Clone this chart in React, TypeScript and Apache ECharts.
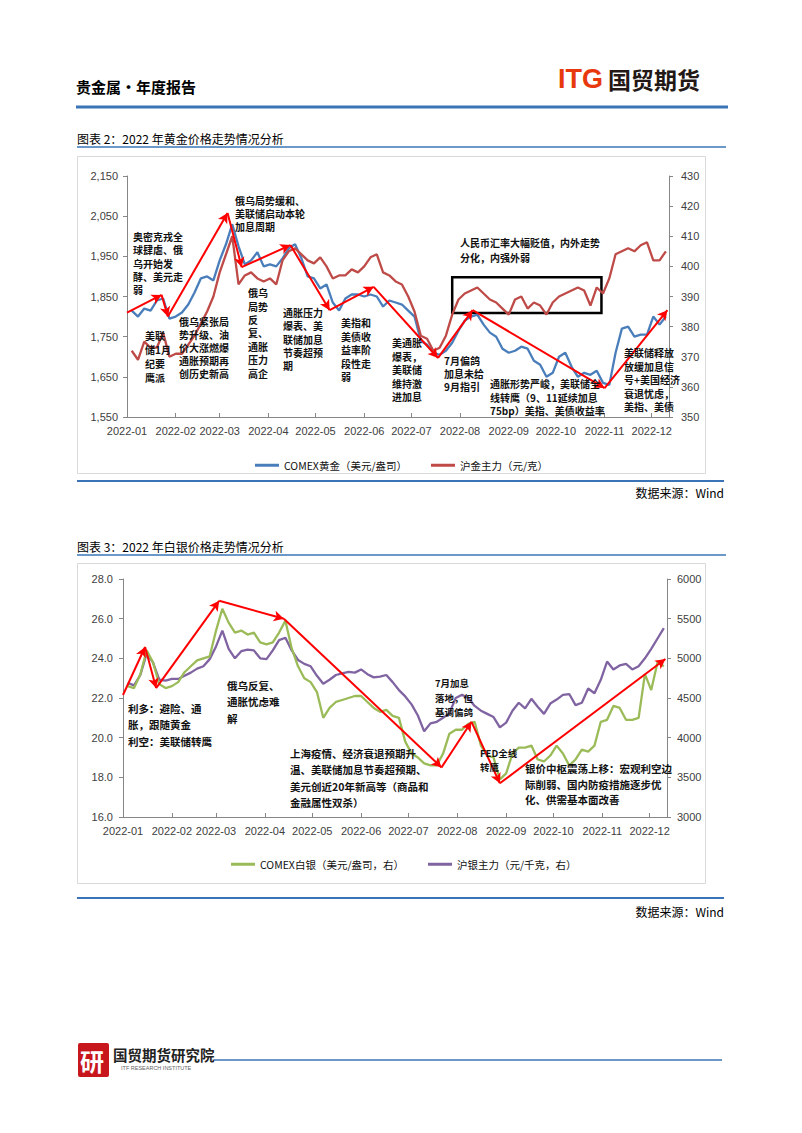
import React, { useEffect, useRef } from 'react';
import * as echarts from 'echarts';

// ---------- data ----------
const START_DAY = 3; // Jan 4
const STEP_DAYS = 4;
const N_POINTS = 86;
function dayToDate(d: number): string {
  const dt = new Date(2022, 0, 1 + d);
  return `${dt.getFullYear()}-${String(dt.getMonth() + 1).padStart(2, '0')}-${String(dt.getDate()).padStart(2, '0')}`;
}
const DATES: string[] = Array.from({ length: N_POINTS }, (_, i) => dayToDate(START_DAY + STEP_DAYS * i));

const MONTH_TICKS = ['2022-01-01', '2022-02-01', '2022-03-01', '2022-04-01', '2022-05-01', '2022-06-01',
  '2022-07-01', '2022-08-01', '2022-09-01', '2022-10-01', '2022-11-01', '2022-12-01'];
const MONTH_LABELS = ['2022-01', '2022-02', '2022-03', '2022-04', '2022-05', '2022-06',
  '2022-07', '2022-08', '2022-09', '2022-10', '2022-11', '2022-12'];
const X_MIN = '2022-01-01';
const X_MAX = '2022-12-12';

const GOLD_COMEX = [1815, 1800, 1820, 1815, 1840, 1845, 1795, 1800, 1810, 1830,
  1860, 1895, 1900, 1890, 1940, 1980, 2030, 1975, 1930, 1940,
  1960, 1925, 1930, 1925, 1945, 1970, 1980, 1945, 1900, 1895,
  1870, 1880, 1835, 1815, 1845, 1855, 1855, 1850, 1855, 1850,
  1825, 1840, 1835, 1830, 1815, 1800, 1740, 1730, 1710, 1705,
  1715, 1735, 1765, 1790, 1800, 1805, 1780, 1760, 1750, 1720,
  1710, 1715, 1725, 1720, 1690, 1680, 1650, 1660, 1700, 1710,
  1675, 1650, 1660, 1655, 1665, 1635, 1630, 1710, 1770, 1775,
  1750, 1755, 1755, 1800, 1780, 1800];
const GOLD_SHFE = [372, 369, 375, 373, 373, 378, 370, 371, 371, 374,
  377, 381, 385, 390, 398, 404, 410, 394, 397, 398,
  396, 395, 396, 394, 402, 405, 406, 404, 402, 401,
  403, 400, 396, 397, 397, 399, 398, 400, 403, 404,
  398, 397, 395, 394, 390, 385, 377, 376, 372, 373,
  377, 384, 389, 391, 392, 393, 391, 389, 388, 386,
  384, 389, 390, 386, 388, 387, 384, 388, 390, 391,
  392, 393, 392, 387, 393, 391, 396, 404, 405, 406,
  405, 407, 408, 402, 402, 405];
const SILVER_COMEX = [22.6, 22.5, 23.2, 24.4, 23.8, 22.7, 22.5, 22.6, 22.8, 23.3,
  23.6, 23.9, 24.0, 24.1, 25.4, 26.5, 25.8, 25.3, 25.4, 25.2,
  25.3, 24.8, 24.7, 24.8, 25.3, 25.9, 24.5, 23.6, 23.0, 22.8,
  22.3, 21.0, 21.5, 21.8, 21.9, 22.0, 22.1, 22.1, 21.8, 21.5,
  21.3, 21.4, 21.1, 21.0, 19.8, 19.2, 19.0, 18.7, 18.6, 18.6,
  19.2, 20.2, 20.4, 20.4, 20.7, 20.8, 19.6, 19.1, 19.0, 17.9,
  18.2, 19.2, 19.5, 19.5, 19.6, 18.9, 18.8, 19.1, 19.6, 19.2,
  18.6, 18.9, 19.4, 19.3, 19.6, 20.8, 20.9, 21.6, 21.5, 20.9,
  20.9, 21.0, 23.2, 22.4, 23.8, 23.6];
const SILVER_SHFE = [4690, 4660, 4790, 5060, 4950, 4730, 4720, 4740, 4740, 4780,
  4820, 4870, 4900, 4990, 5150, 5350, 5120, 5000, 5090, 5110,
  5100, 5000, 4990, 5100, 5230, 5260, 5100, 4980, 4930, 4900,
  4780, 4680, 4730, 4790, 4810, 4830, 4820, 4860, 4800, 4760,
  4770, 4790, 4700, 4600, 4520, 4420, 4280, 4080, 4180, 4200,
  4250, 4310, 4500, 4540, 4500, 4400, 4340, 4300, 4260, 4130,
  4190, 4340, 4440, 4370, 4490, 4390, 4300, 4430, 4480, 4540,
  4550, 4410, 4440, 4620, 4560, 4730, 4960, 4860, 4910, 4930,
  4860, 4900, 5000, 5120, 5250, 5380];

// trend arrows (vertices, left axis units)
const GOLD_TREND: [string, number][] = [
  ['2022-01-01', 1810], ['2022-01-23', 1854], ['2022-01-27', 1800], ['2022-03-06', 2058],
  ['2022-03-15', 1923], ['2022-04-15', 1978], ['2022-05-10', 1816], ['2022-06-07', 1874],
  ['2022-07-18', 1697], ['2022-08-09', 1816], ['2022-11-01', 1622], ['2022-12-11', 1816]];
const SILVER_TREND: [string, number][] = [
  ['2022-01-01', 22.15], ['2022-01-15', 24.57], ['2022-01-22', 22.5], ['2022-03-03', 26.9],
  ['2022-04-13', 26.0], ['2022-07-22', 18.5], ['2022-08-10', 20.8], ['2022-08-28', 17.7],
  ['2022-12-11', 23.97]];
// framed box on the SHFE gold axis
const GOLD_BOX: [string, number][] = [['2022-07-27', 396.4], ['2022-10-30', 384.5]];

const GOLD_NAMES = ['COMEX黄金（美元/盎司）', '沪金主力（元/克）'];
const SILVER_NAMES = ['COMEX白银（美元/盎司，右）', '沪银主力（元/千克，右）'];

// ---------- styles ----------
const FONT_CJK = '"Noto Sans CJK SC", "Noto Sans", sans-serif';
const FONT_NUM = '"Liberation Sans Narrow", "Liberation Sans", Arial, sans-serif';
const C_BLUE = '#4A7EBB';
const C_RED = '#BE4B48';
const C_GREEN = '#9BBB59';
const C_PURPLE = '#8064A2';
const AXIS_COLOR = '#868686';
const LABEL_COLOR = '#404040';
const PAGE_BLUE = '#3A74B7';
const LINE_W = 2.3;

function toTs(s: string): number {
  const [y, m, d] = s.split('-').map(Number);
  return new Date(y, m - 1, d).getTime();
}
const MONTH_TS = MONTH_TICKS.map(toTs);

function makeXAxis(gridIndex: number) {
  return {
    type: 'value',
    gridIndex,
    min: toTs(X_MIN),
    max: toTs(X_MAX),
    axisLine: { show: true, onZero: false, lineStyle: { color: AXIS_COLOR, width: 1 } },
    axisTick: { show: true, inside: true, length: 4, customValues: MONTH_TS, lineStyle: { color: AXIS_COLOR } },
    axisLabel: {
      customValues: MONTH_TS,
      formatter: (v: number) => {
        const i = MONTH_TS.indexOf(v);
        return i >= 0 ? MONTH_LABELS[i] : '';
      },
      color: LABEL_COLOR, fontSize: 11, fontFamily: FONT_NUM, margin: 8, hideOverlap: false,
    },
    splitLine: { show: false },
  };
}

function makeYAxis(gridIndex: number, position: string, min: number, max: number, interval: number,
  formatter: (v: number) => string, margin: number) {
  return {
    type: 'value', gridIndex, position, min, max, interval,
    axisLine: { show: true, lineStyle: { color: AXIS_COLOR, width: 1 } },
    axisTick: { show: true, length: 4, lineStyle: { color: AXIS_COLOR } },
    axisLabel: { formatter, color: LABEL_COLOR, fontSize: 11, fontFamily: FONT_NUM, margin },
    splitLine: { show: false },
  };
}

function pairs(pts: [string, number][]) {
  const out: any[] = [];
  for (let i = 0; i < pts.length - 1; i++) {
    out.push([{ coord: [toTs(pts[i][0]), pts[i][1]] }, { coord: [toTs(pts[i + 1][0]), pts[i + 1][1]] }]);
  }
  return out;
}

function arrowMarkLine(pts: [string, number][]) {
  return {
    silent: true,
    symbol: ['none', 'arrow'],
    symbolSize: [8, 10],
    lineStyle: { color: '#FF0000', width: 2, type: 'solid', opacity: 1 },
    label: { show: false },
    emphasis: { disabled: true },
    data: pairs(pts),
  };
}

// multi-line annotation: one text element per line
function note(text: string, x: number, y: number, size: number, lh: number) {
  const lines = text.split('\n');
  return {
    type: 'group', z: 100,
    children: lines.map((ln, k) => ({
      type: 'text', x, y: y + k * lh, z: 100,
      style: { text: ln, fontSize: size, fontWeight: 'bold', fontFamily: FONT_CJK, fill: '#111', lineHeight: lh, verticalAlign: 'top' },
    })),
  };
}
function pageText(text: string, x: number, y: number, size: number, opts: any = {}) {
  return {
    type: 'text', x, y, z: 100,
    style: { text, fontSize: size, fontFamily: FONT_CJK, fill: '#000', verticalAlign: 'middle', ...opts },
  };
}
function hLine(x1: number, x2: number, y: number, w: number, color: string) {
  return { type: 'line', z: 1, shape: { x1, y1: y, x2, y2: y }, style: { stroke: color, lineWidth: w } };
}

function buildOption() {
  const graphics: any[] = [
    // header
    pageText('贵金属·年度报告', 76, 86, 15, { fontWeight: 'bold' }),
    pageText('ITG', 558, 79, 27, { fontWeight: 'bold', fill: '#E8380D', fontFamily: '"Liberation Sans", Arial, sans-serif' }),
    pageText('国贸期货', 608, 79, 23, { fill: '#231815', fontWeight: 'bold' }),
    hLine(76, 728, 107, 3, PAGE_BLUE),
    // chart 1 frame
    pageText('图表 2：2022 年黄金价格走势情况分析', 77, 138, 12),
    hLine(77, 726, 147, 1.5, PAGE_BLUE),
    { type: 'rect', z: 0, shape: { x: 77.5, y: 156.5, width: 628, height: 317 }, style: { fill: 'none', stroke: '#D9D9D9', lineWidth: 1 } },
    hLine(77, 724, 481, 2, PAGE_BLUE),
    pageText('数据来源：Wind', 724, 492, 12, { align: 'right' }),
    // chart 2 frame
    pageText('图表 3：2022 年白银价格走势情况分析', 77, 546, 12),
    hLine(77, 726, 555, 1.5, PAGE_BLUE),
    { type: 'rect', z: 0, shape: { x: 77.5, y: 563.5, width: 628, height: 320 }, style: { fill: 'none', stroke: '#D9D9D9', lineWidth: 1 } },
    hLine(77, 724, 898, 2, PAGE_BLUE),
    pageText('数据来源：Wind', 724, 911, 12, { align: 'right' }),
    // footer
    { type: 'rect', z: 10, shape: { x: 78, y: 1043, width: 31, height: 34, r: 2 }, style: { fill: '#C8161D' } },
    pageText('研', 80, 1060, 24, { fill: '#fff', fontWeight: 'bold' }),
    pageText('国贸期货研究院', 113, 1054, 14.5, { fontWeight: 'bold', fill: '#222' }),
    pageText('ITF RESEARCH INSTITUTE', 121, 1068, 5.5, { fill: '#666', fontFamily: '"Liberation Sans", Arial, sans-serif' }),
    hLine(214, 722, 1060, 1.5, PAGE_BLUE),

    // chart 1 notes
    note('奥密克戎全\n球肆虐、俄\n乌开始发\n酵、美元走\n弱', 133, 230, 10, 13.3),
    note('美联\n储1月\n纪要\n鹰派', 145, 328, 10, 14),
    note('俄乌紧张局\n势升级、油\n价大涨燃爆\n通胀预期再\n创历史新高', 179, 315, 10, 13),
    note('俄乌局势缓和、\n美联储启动本轮\n加息周期', 235, 194, 10, 13),
    note('俄乌\n局势\n反\n复、\n通胀\n压力\n高企', 248, 286, 10, 13.4),
    note('通胀压力\n爆表、美\n联储加息\n节奏超预\n期', 283, 306, 10, 13.3),
    note('美指和\n美债收\n益率阶\n段性走\n弱', 341, 316, 10, 13.5),
    note('美通胀\n爆表，\n美联储\n维持激\n进加息', 392, 336, 10, 13.5),
    note('7月偏鸽\n加息未给\n9月指引', 444, 354, 10, 13),
    note('通胀形势严峻，美联储全\n线转鹰（9、11延续加息\n75bp）美指、美债收益率', 490, 377, 10, 13.5),
    note('美联储释放\n放缓加息信\n号+美国经济\n衰退忧虑，\n美指、美债', 624, 346, 10, 13.5),
    note('人民币汇率大幅贬值，内外走势\n分化，内强外弱', 460, 235, 10, 15),

    // chart 2 notes
    note('利多：避险、通\n胀，跟随黄金\n利空：美联储转鹰', 128, 700, 10.5, 16.5),
    note('俄乌反复、\n通胀忧虑难\n解', 227, 677, 10.5, 16.5),
    note('上海疫情、经济衰退预期升\n温、美联储加息节奏超预期、\n美元创近20年新高等（商品和\n金融属性双杀）', 290, 745, 10.5, 16.5),
    note('7月加息\n落地，但\n基调偏鸽', 435, 676, 9.5, 14.5),
    note('FED全线\n转鹰', 480, 746, 9.5, 14),
    note('银价中枢震荡上移：宏观利空边\n际削弱、国内防疫措施逐步优\n化、供需基本面改善', 525, 761, 10.5, 15.5),
  ];

  const legendText = { fontSize: 10.5, fontFamily: FONT_CJK, color: '#111' };
  const xy = (arr: number[]) => DATES.map((d, i) => [toTs(d), arr[i]]);

  return {
    animation: false,
    backgroundColor: '#fff',
    textStyle: { fontFamily: FONT_CJK },
    grid: [
      { left: 127, top: 176, width: 542, height: 241 },
      { left: 123, top: 579, width: 544, height: 238 },
    ],
    xAxis: [makeXAxis(0), makeXAxis(1)],
    yAxis: [
      makeYAxis(0, 'left', 1550, 2150, 100, (v: number) => v.toLocaleString('en-US'), 9),
      makeYAxis(0, 'right', 350, 430, 10, (v: number) => String(v), 12),
      makeYAxis(1, 'left', 16, 28, 2, (v: number) => v.toFixed(1), 10),
      makeYAxis(1, 'right', 3000, 6000, 500, (v: number) => String(v), 10),
    ],
    legend: [
      {
        data: GOLD_NAMES, left: 250, top: 455, icon: 'rect', itemWidth: 24, itemHeight: 3, itemGap: 24,
        textStyle: legendText, selectedMode: false,
      },
      {
        data: SILVER_NAMES, left: 226, top: 854, icon: 'rect', itemWidth: 24, itemHeight: 3, itemGap: 24,
        textStyle: legendText, selectedMode: false,
      },
    ],
    series: [
      {
        name: GOLD_NAMES[0], type: 'line', xAxisIndex: 0, yAxisIndex: 0, showSymbol: false, z: 3,
        data: xy(GOLD_COMEX),
        lineStyle: { color: C_BLUE, width: LINE_W }, itemStyle: { color: C_BLUE },
      },
      {
        name: GOLD_NAMES[1], type: 'line', xAxisIndex: 0, yAxisIndex: 1, showSymbol: false, z: 4,
        data: xy(GOLD_SHFE),
        lineStyle: { color: C_RED, width: LINE_W }, itemStyle: { color: C_RED },
        markArea: {
          silent: true,
          itemStyle: { color: 'rgba(0,0,0,0)', borderColor: '#000', borderWidth: 2.5 },
          label: { show: false },
          data: [[{ coord: [toTs(GOLD_BOX[0][0]), GOLD_BOX[0][1]] }, { coord: [toTs(GOLD_BOX[1][0]), GOLD_BOX[1][1]] }]],
        },
      },
      {
        name: 'goldTrend', type: 'line', xAxisIndex: 0, yAxisIndex: 0, z: 10, data: [],
        markLine: arrowMarkLine(GOLD_TREND),
      },
      {
        name: SILVER_NAMES[0], type: 'line', xAxisIndex: 1, yAxisIndex: 2, showSymbol: false, z: 4,
        data: xy(SILVER_COMEX),
        lineStyle: { color: C_GREEN, width: LINE_W }, itemStyle: { color: C_GREEN },
      },
      {
        name: SILVER_NAMES[1], type: 'line', xAxisIndex: 1, yAxisIndex: 3, showSymbol: false, z: 3,
        data: xy(SILVER_SHFE),
        lineStyle: { color: C_PURPLE, width: LINE_W }, itemStyle: { color: C_PURPLE },
      },
      {
        name: 'silverTrend', type: 'line', xAxisIndex: 1, yAxisIndex: 2, z: 10, data: [],
        markLine: arrowMarkLine(SILVER_TREND),
      },
    ],
    graphic: { elements: graphics },
  };
}

export default function App() {
  const ref = useRef<HTMLDivElement>(null);
  useEffect(() => {
    if (!ref.current) return;
    const chart = echarts.init(ref.current, undefined, { renderer: 'svg' });
    chart.setOption(buildOption() as any);
    return () => chart.dispose();
  }, []);
  return (
    <div
      ref={ref}
      style={{ position: 'absolute', left: 0, top: 0, width: 802, height: 1133, background: '#fff' }}
    />
  );
}
